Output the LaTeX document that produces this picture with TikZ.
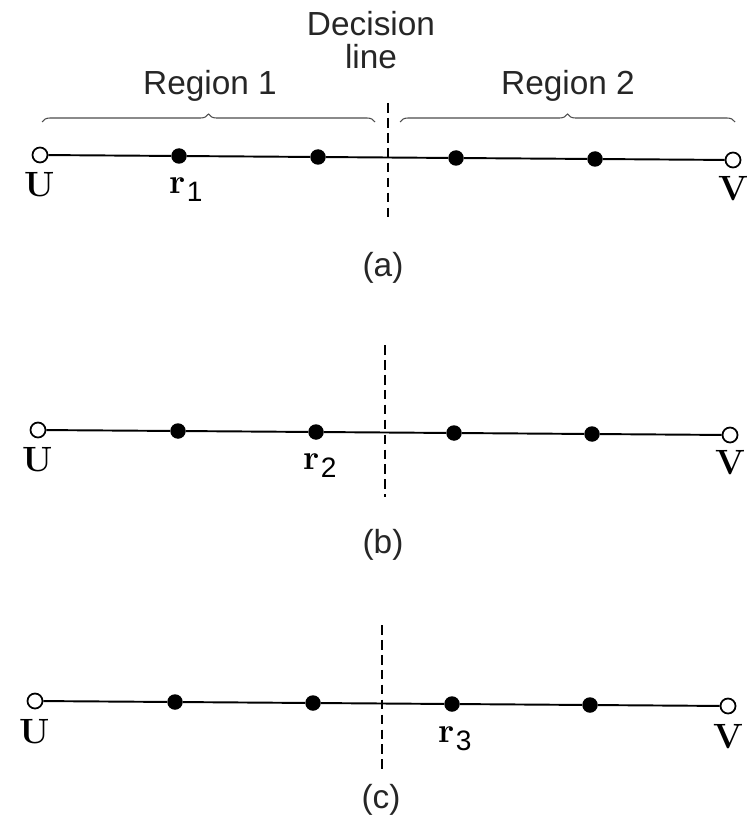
\documentclass[tikz,border=0pt]{standalone}
\usepackage{fontspec}
\setsansfont{Liberation Sans}
\usetikzlibrary{positioning, decorations.pathreplacing, calc}

\begin{document}
\begin{tikzpicture}[
  x=0.02cm, y=-0.02cm,
  endpt/.style={circle, draw=black, fill=white, line width=1pt, inner sep=0pt, minimum size=0.3cm},
  sample/.style={circle, fill=black, inner sep=0pt, minimum size=0.31cm},
  ptlabel/.style={font=\bfseries\fontsize{20}{20}\selectfont, inner sep=0pt},
  subidx/.style={font=\sffamily\fontsize{16}{16}\selectfont, inner sep=0pt},
  caption/.style={font=\sffamily\fontsize{19}{19}\selectfont, text=black!85, align=center},
  axis/.style={line width=1.1pt},
  decline/.style={line width=0.6pt, dash pattern=on 5.5pt off 3pt},
  region/.style={decorate, decoration={brace, amplitude=0.16cm}, line width=0.6pt, draw=black!70}
]
\useasboundingbox (0,0) rectangle (749,827);

% (a)
\node (ua) [endpt] at (40,155) {};
\node (a1) [sample] at (179,156) {};
\node (a2) [sample] at (318,157) {};
\node (a3) [sample] at (456,158) {};
\node (a4) [sample] at (595,159) {};
\node (va) [endpt] at (733,160) {};
\draw [axis] (ua) -- (a1) -- (a2) -- (a3) -- (a4) -- (va);
\node (lua) [ptlabel] at (40,185) {U};
\node (lr1) [ptlabel] at (178,186) {r};
\node (i1) [subidx, anchor=west] at ($(lr1.east)+(0,6)$) {1};
\node (lva) [ptlabel] at (733,189) {V};

\node (dec) [caption] at (371,40) {Decision\\[0pt]line};
\coordinate (dta) at (388,103);
\coordinate (dba) at (388,222);
\draw [decline] (dta) -- (dba);

\coordinate (b1l) at (42,122);
\coordinate (b1r) at (375,122);
\coordinate (b2l) at (400,122);
\coordinate (b2r) at (735,122);
\draw [region] (b1l) -- (b1r);
\draw [region] (b2l) -- (b2r);
\node (reg1) [caption] at (210,86) {Region 1};
\node (reg2) [caption] at (568,86) {Region 2};
\node (capa) [caption] at (383,268) {(a)};

% (b)
\node (ub) [endpt] at (38,430) {};
\node (b1) [sample] at (178,431) {};
\node (b2) [sample] at (316,432) {};
\node (b3) [sample] at (454,433) {};
\node (b4) [sample] at (592,434) {};
\node (vb) [endpt] at (730,435) {};
\draw [axis] (ub) -- (b1) -- (b2) -- (b3) -- (b4) -- (vb);
\node (lub) [ptlabel] at (38,460) {U};
\node (lr2) [ptlabel] at (312,462) {r};
\node (i2) [subidx, anchor=west] at ($(lr2.east)+(0,6)$) {2};
\node (lvb) [ptlabel] at (730,463) {V};
\coordinate (dtb) at (385,345);
\coordinate (dbb) at (385,497);
\draw [decline] (dtb) -- (dbb);
\node (capb) [caption] at (383,545) {(b)};

% (c)
\node (uc) [endpt] at (35,701) {};
\node (c1) [sample] at (175,702) {};
\node (c2) [sample] at (313,703) {};
\node (c3) [sample] at (452,704) {};
\node (c4) [sample] at (590,705) {};
\node (vc) [endpt] at (728,706) {};
\draw [axis] (uc) -- (c1) -- (c2) -- (c3) -- (c4) -- (vc);
\node (luc) [ptlabel] at (35,732) {U};
\node (lr3) [ptlabel] at (447,735) {r};
\node (i3) [subidx, anchor=west] at ($(lr3.east)+(0,6)$) {3};
\node (lvc) [ptlabel] at (728,737) {V};
\coordinate (dtc) at (382,625);
\coordinate (dbc) at (382,770);
\draw [decline] (dtc) -- (dbc);
\node (capc) [caption] at (381,800) {(c)};

\end{tikzpicture}
\end{document}
